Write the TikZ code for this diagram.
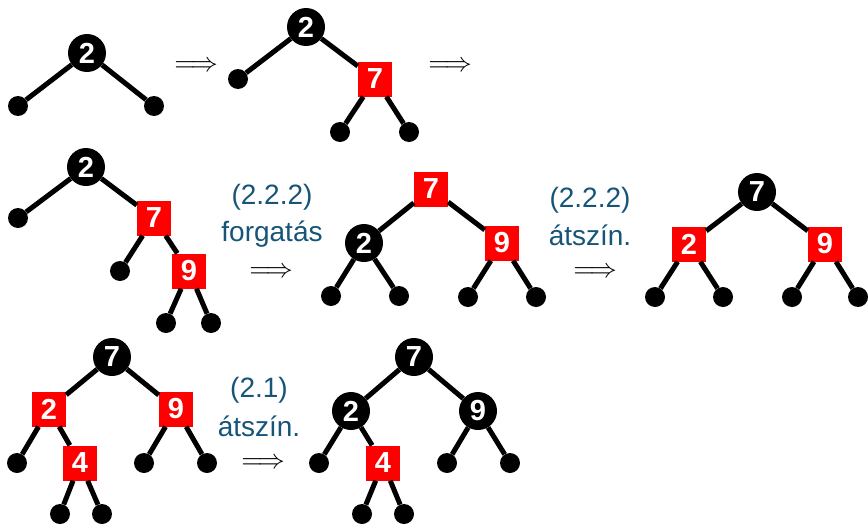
\documentclass[tikz,border=0pt]{standalone}
\usepackage{fontspec}
\setmainfont{Liberation Sans}
\definecolor{lbl}{RGB}{22,85,120}
\definecolor{rnode}{RGB}{255,0,0}
\newcommand{\bigimp}{\scalebox{2.7}{$\Longrightarrow$}}
\begin{document}
\begin{tikzpicture}[x=1pt,y=-1pt,
  every node/.style={font=\fontsize{28}{32}\selectfont},
  bn/.style={circle,fill=black,text=white,minimum size=38pt,inner sep=0pt,font=\fontsize{29}{32}\selectfont\bfseries},
  rn/.style={rectangle,fill=rnode,text=white,minimum width=34pt,minimum height=35pt,inner sep=0pt,font=\fontsize{29}{32}\selectfont\bfseries},
  lf/.style={circle,fill=black,minimum size=20pt,inner sep=0pt},
  ed/.style={line width=5pt},
  lab/.style={text=lbl,align=center,inner sep=0pt},
  arr/.style={inner sep=0pt,font=\fontsize{10}{12}\selectfont}]
\useasboundingbox (0,0) rectangle (868,525);
% Tree 1
\node[bn] (a1) at (87,53) {2};
\node[lf] (a1l) at (18,106) {};
\node[lf] (a1r) at (154,106) {};
\draw[ed] (a1)--(a1l) (a1)--(a1r);
\node[arr] (ar1) at (196,67) {\bigimp};
% Tree 2
\node[bn] (b2) at (306,27) {2};
\node[lf] (b2l) at (238,79) {};
\node[rn] (b7) at (375,79) {7};
\node[lf] (b7l) at (340,132) {};
\node[lf] (b7r) at (409,132) {};
\draw[ed] (b2)--(b2l) (b2)--(b7) (b7)--(b7l) (b7)--(b7r);
\node[arr] (ar2) at (450,67) {\bigimp};
% Tree 3
\node[bn] (c2) at (86,167) {2};
\node[lf] (c2l) at (18,218) {};
\node[rn] (c7) at (154,218) {7};
\node[lf] (c7l) at (120,271) {};
\node[rn] (c9) at (189,271) {9};
\node[lf] (c9l) at (166,323) {};
\node[lf] (c9r) at (211,323) {};
\draw[ed] (c2)--(c2l) (c2)--(c7) (c7)--(c7l) (c7)--(c9) (c9)--(c9l) (c9)--(c9r);
\node[lab] (t1) at (272,197) {(2.2.2)};
\node[lab] (t2) at (272,234) {forgatás};
\node[arr] (ar3) at (271,273) {\bigimp};
% Tree 4
\node[rn] (d7) at (431,189) {7};
\node[bn] (d2) at (364,243) {2};
\node[rn] (d9) at (502,243) {9};
\node[lf] (d2l) at (331,296) {};
\node[lf] (d2r) at (399,296) {};
\node[lf] (d9l) at (468,297) {};
\node[lf] (d9r) at (536,297) {};
\draw[ed] (d7)--(d2) (d7)--(d9) (d2)--(d2l) (d2)--(d2r) (d9)--(d9l) (d9)--(d9r);
\node[lab] (t3) at (590,200) {(2.2.2)};
\node[lab] (t4) at (590,235) {átszín.};
\node[arr] (ar4) at (595,273) {\bigimp};
% Tree 5
\node[bn] (e7) at (757,192) {7};
\node[rn] (e2) at (689,244) {2};
\node[rn] (e9) at (825,244) {9};
\node[lf] (e2l) at (655,297) {};
\node[lf] (e2r) at (723,297) {};
\node[lf] (e9l) at (792,297) {};
\node[lf] (e9r) at (858,297) {};
\draw[ed] (e7)--(e2) (e7)--(e9) (e2)--(e2l) (e2)--(e2r) (e9)--(e9l) (e9)--(e9r);
% Tree 6
\node[bn] (f7) at (112,357) {7};
\node[rn] (f2) at (49,409) {2};
\node[rn] (f9) at (176,409) {9};
\node[lf] (f2l) at (17,463) {};
\node[rn] (f4) at (80,463) {4};
\node[lf] (f9l) at (144,463) {};
\node[lf] (f9r) at (207,463) {};
\node[lf] (f4l) at (60,514) {};
\node[lf] (f4r) at (102,514) {};
\draw[ed] (f7)--(f2) (f7)--(f9) (f2)--(f2l) (f2)--(f4) (f9)--(f9l) (f9)--(f9r) (f4)--(f4l) (f4)--(f4r);
\node[lab] (t5) at (259,390) {(2.1)};
\node[lab] (t6) at (259,426) {átszín.};
\node[arr] (ar5) at (263,464) {\bigimp};
% Tree 7
\node[bn] (g7) at (414,357) {7};
\node[bn] (g2) at (351,411) {2};
\node[bn] (g9) at (478,411) {9};
\node[lf] (g2l) at (319,463) {};
\node[rn] (g4) at (383,463) {4};
\node[lf] (g9l) at (447,463) {};
\node[lf] (g9r) at (510,463) {};
\node[lf] (g4l) at (362,514) {};
\node[lf] (g4r) at (404,514) {};
\draw[ed] (g7)--(g2) (g7)--(g9) (g2)--(g2l) (g2)--(g4) (g9)--(g9l) (g9)--(g9r) (g4)--(g4l) (g4)--(g4r);
\end{tikzpicture}
\end{document}
